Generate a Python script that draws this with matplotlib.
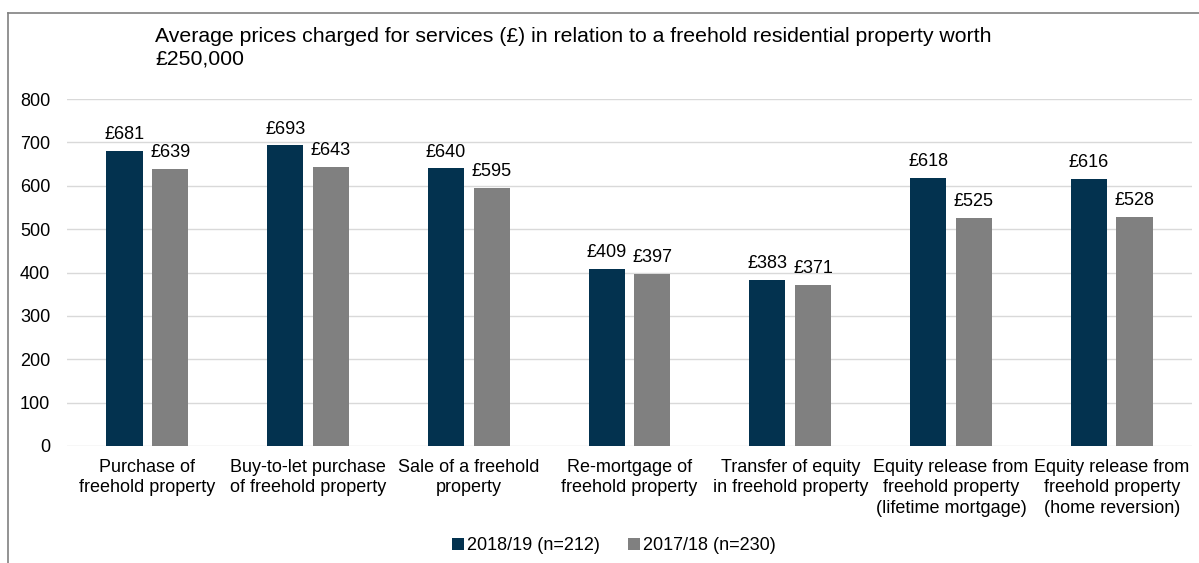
import matplotlib.pyplot as plt
import numpy as np
from matplotlib.lines import Line2D

plt.rcParams['font.family'] = ['Liberation Sans', 'DejaVu Sans']

categories = ["Purchase of\nfreehold property",
              "Buy-to-let purchase\nof freehold property",
              "Sale of a freehold\nproperty",
              "Re-mortgage of\nfreehold property",
              "Transfer of equity\nin freehold property",
              "Equity release from\nfreehold property\n(lifetime mortgage)",
              "Equity release from\nfreehold property\n(home reversion)"]
prices_1819 = [681, 693, 640, 409, 383, 618, 616]
prices_1718 = [639, 643, 595, 397, 371, 525, 528]
series_names = ["2018/19 (n=212)", "2017/18 (n=230)"]
yticks = [0, 100, 200, 300, 400, 500, 600, 700, 800]

dark = "#03324f"
grey = "#808080"
fs = 13

fig = plt.figure(figsize=(11.99, 5.63), dpi=100)
ax = fig.add_axes([67/1199, 1-446/563, 1125/1199, 347/563])

x = np.arange(len(categories))
w = 0.225
b1 = ax.bar(x - 0.142, prices_1819, w, color=dark, label=series_names[0])
b2 = ax.bar(x + 0.142, prices_1718, w, color=grey, label=series_names[1])

for bars, vals in ((b1, prices_1819), (b2, prices_1718)):
    for r, v in zip(bars, vals):
        ax.text(r.get_x() + r.get_width()/2, v + 18, "£%d" % v,
                ha="center", va="bottom", fontsize=fs)

ax.set_xlim(-0.5, len(categories) - 0.5)
ax.set_ylim(0, 800)
ax.set_yticks(yticks)
ax.set_xticks(x)
ax.set_xticklabels(categories, fontsize=fs, linespacing=1.3)
ax.tick_params(axis="y", labelsize=fs, length=0, pad=12)
ax.tick_params(axis="x", length=0, pad=9)
ax.grid(axis="y", color="#d9d9d9", linewidth=1)
ax.set_axisbelow(True)
for s in ax.spines.values():
    s.set_visible(False)

fig.text(155/1199, 1-48/563, "Average prices charged for services (£) in relation to a freehold residential property worth\n£250,000",
         fontsize=15.3, va="center", ha="left", linespacing=1.25)

leg = fig.legend(handles=[b1, b2], loc="center", bbox_to_anchor=(0.512, 1-546/563),
                 ncol=2, frameon=False, fontsize=fs, handlelength=0.65, handleheight=0.65,
                 handletextpad=0.15, columnspacing=1.6)

# outer border on top and left
fig.add_artist(Line2D([8/1199, 1], [1-13/563, 1-13/563], color="#808080", linewidth=1.2))
fig.add_artist(Line2D([8/1199, 8/1199], [0, 1-13/563], color="#808080", linewidth=1.2))

fig.savefig("out.png", dpi=100)
